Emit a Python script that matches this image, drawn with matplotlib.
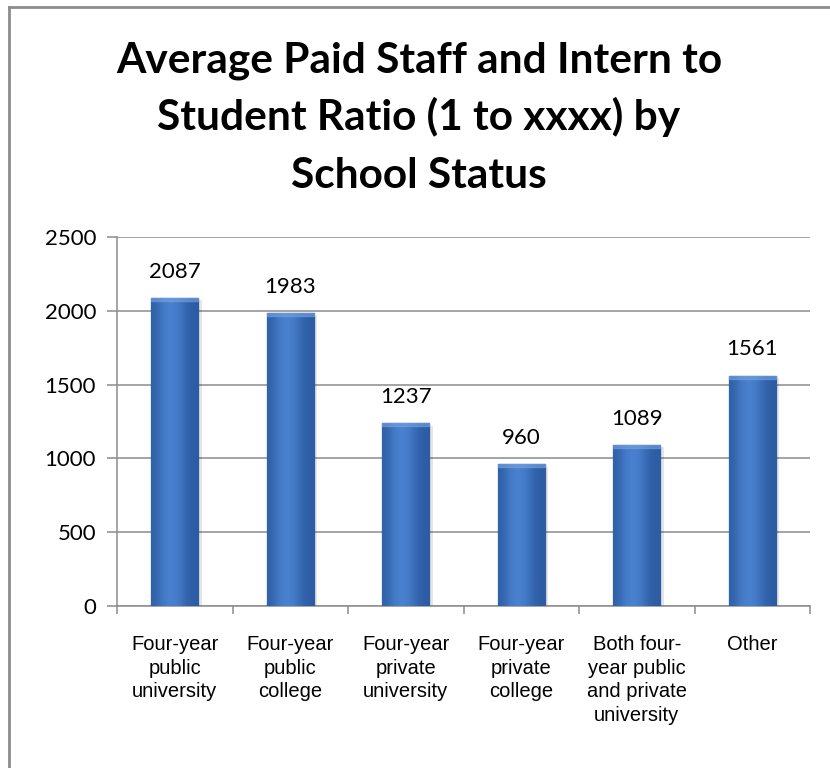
import matplotlib.pyplot as plt
import numpy as np
from matplotlib.lines import Line2D
from matplotlib.colors import LinearSegmentedColormap

categories = [
    "Four-year\npublic\nuniversity",
    "Four-year\npublic\ncollege",
    "Four-year\nprivate\nuniversity",
    "Four-year\nprivate\ncollege",
    "Both four-\nyear public\nand private\nuniversity",
    "Other",
]
ratios = [2087, 1983, 1237, 960, 1089, 1561]
y_ticks = [0, 500, 1000, 1500, 2000, 2500]
title_lines = ["Average Paid Staff and Intern to", "Student Ratio (1 to xxxx) by", "School Status"]

fig = plt.figure(figsize=(8.3, 7.68), dpi=100)
ax = fig.add_axes([117 / 830, 1 - 606 / 768, (810 - 117) / 830, (606 - 237) / 768])

x = np.arange(len(categories))
bar_w = 0.41

# soft shadow behind bars
ax.bar(x + 0.03, ratios, width=bar_w, bottom=-15, color="#000000", alpha=0.10, zorder=2)
bars = ax.bar(x, ratios, width=bar_w, color="#3A6CB5", edgecolor="#244C8A", linewidth=0.9, zorder=3)

# horizontal gradient inside each bar
cmap = LinearSegmentedColormap.from_list("b", ["#2C5CA3", "#4C84D2"])
grad = np.array([[0.1, 0.6, 0.8, 0.6, 0.15, 0.0]])
for b in bars:
    x0, y0 = b.get_x(), b.get_y()
    w, h = b.get_width(), b.get_height()
    im = ax.imshow(grad, extent=[x0, x0 + w, y0, y0 + h], aspect="auto", cmap=cmap,
                   zorder=3.5, interpolation="bicubic")
    im.set_clip_path(b)
    ax.add_patch(plt.Rectangle((x0, y0 + h - 20), w, 20, color="#7AA6E2", alpha=0.55,
                               zorder=3.6, clip_path=b))

for xi, v in zip(x, ratios):
    ax.text(xi, v + 110, str(v), ha="center", va="bottom", fontsize=16,
            family="Lato", color="black")

ax.set_xlim(-0.5, len(categories) - 0.5)
ax.set_ylim(0, 2500)
ax.set_yticks(y_ticks)
ax.set_yticklabels([str(t) for t in y_ticks], fontsize=16, family="Lato")
ax.yaxis.grid(True, color="#8C8C8C", linewidth=1.1, zorder=0)
ax.set_axisbelow(True)

ax.set_xticks(x)
ax.set_xticklabels(categories, fontsize=14.5, family="Liberation Sans", linespacing=1.3)
ax.tick_params(axis="x", which="major", length=0, pad=21)
ax.set_xticks(np.arange(len(categories) + 1) - 0.5, minor=True)
ax.tick_params(axis="x", which="minor", length=6, color="#8C8C8C", width=1.1)
ax.tick_params(axis="y", length=7, color="#8C8C8C", width=1.1, pad=8)

for s in ["top", "right"]:
    ax.spines[s].set_visible(False)
for s in ["left", "bottom"]:
    ax.spines[s].set_color("#8C8C8C")
    ax.spines[s].set_linewidth(1.1)

# title, one text per line at the reference baselines
for line, base in zip(title_lines, [73, 130, 188]):
    fig.text(0.5 + 4 / 830, 1 - base / 768, line, ha="center", va="baseline", fontsize=30.5,
             fontweight="bold", family="Lato")

# chart area frame (left and top edges visible)
fig.add_artist(Line2D([9 / 830, 9 / 830], [0, 1 - 7 / 768], color="#8C8C8C", lw=2,
                      transform=fig.transFigure))
fig.add_artist(Line2D([9 / 830, 1], [1 - 7 / 768, 1 - 7 / 768], color="#8C8C8C", lw=2,
                      transform=fig.transFigure))

fig.savefig("out.png", dpi=100)
